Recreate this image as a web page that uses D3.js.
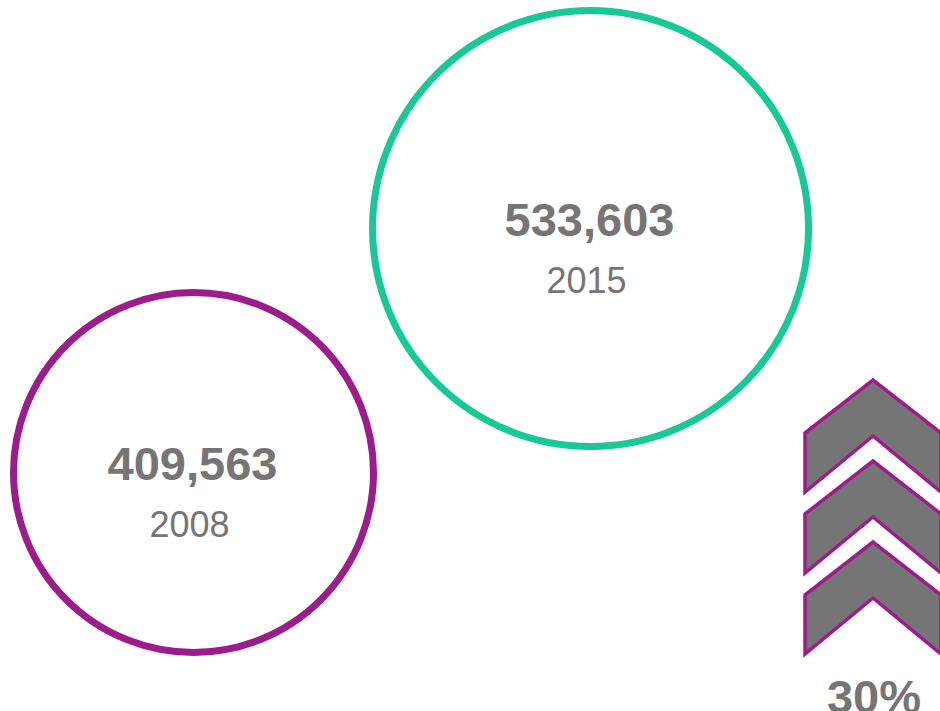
<!DOCTYPE html>
<html>
<head>
<meta charset="utf-8">
<script src="https://cdn.jsdelivr.net/npm/d3@7"></script>
<style>
  html, body { margin: 0; padding: 0; background: #fff; }
  svg { display: block; font-family: Arial, "Liberation Sans", sans-serif; }
</style>
</head>
<body>
<svg id="chart"></svg>
<script>
// values
const years = [2008, 2015];
const totals = [409563, 533603];
const colors = ['#9c1c8c', '#17c995'];
const chevronCount = 3;

const width = 940, height = 711;
const grey = '#757575';

const svg = d3.select('#chart').attr('width', width).attr('height', height);

// circle placement and size come from scales
const x = d3.scaleLinear().domain(years).range([193.5, 590.5]);
const y = d3.scaleLinear().domain(totals).range([472.5, 228.5]);
const r = d3.scaleLinear().domain(totals).range([180, 218]);

const data = years.map((year, i) => ({ year, total: totals[i], color: colors[i] }));

const bubble = svg.selectAll('g.bubble').data(data).join('g')
    .attr('class', 'bubble')
    .attr('transform', d => `translate(${x(d.year)},${y(d.total)})`);

bubble.append('circle')
    .attr('r', d => r(d.total))
    .attr('fill', 'none')
    .attr('stroke', d => d.color)
    .attr('stroke-width', 7);

bubble.append('text')
    .attr('text-anchor', 'middle')
    .attr('x', -1)
    .attr('y', 7)
    .attr('fill', grey)
    .attr('font-size', 47)
    .attr('font-weight', 'bold')
    .text(d => d3.format(',')(d.total));

bubble.append('text')
    .attr('text-anchor', 'middle')
    .attr('x', -4)
    .attr('y', 64)
    .attr('fill', grey)
    .attr('font-size', 36)
    .text(d => d.year);

// growth arrows
const cy = d3.scaleLinear().domain([0, chevronCount - 1]).range([380, 542]);
const cx = 873, halfW = 68, rise = 53, side = 59;
const line = d3.line();

svg.selectAll('path.chevron').data(d3.range(chevronCount)).join('path')
    .attr('class', 'chevron')
    .attr('d', i => {
      const top = cy(i);
      return line([
        [cx - halfW, top + rise],
        [cx, top],
        [cx + halfW, top + rise],
        [cx + halfW, top + rise + side],
        [cx, top + side - 3],
        [cx - halfW, top + rise + side]
      ]) + 'Z';
    })
    .attr('fill', grey)
    .attr('stroke', colors[0])
    .attr('stroke-width', 3.5)
    .attr('stroke-linejoin', 'miter');

const growth = (totals[1] - totals[0]) / totals[0];
svg.append('text')
    .attr('x', cx + 1)
    .attr('y', 713)
    .attr('text-anchor', 'middle')
    .attr('fill', grey)
    .attr('font-size', 47)
    .attr('font-weight', 'bold')
    .text(d3.format('.0%')(growth));
</script>
</body>
</html>
